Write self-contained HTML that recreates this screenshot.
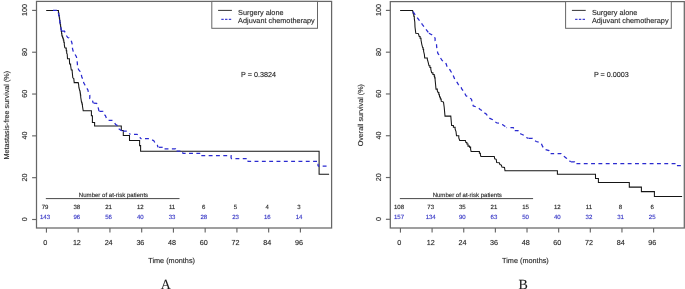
<!DOCTYPE html>
<html><head><meta charset="utf-8"><title>Kaplan-Meier curves</title>
<style>
html,body{margin:0;padding:0;background:#fff;}
body{width:685px;height:289px;overflow:hidden;font-family:"Liberation Sans",sans-serif;}
svg{display:block;will-change:transform;text-rendering:geometricPrecision;}
</style></head>
<body>
<svg width="685" height="289" viewBox="0 0 685 289">
<rect width="685" height="289" fill="#fff"/>
<rect x="36.50" y="1.40" width="295.10" height="226.60" fill="none" stroke="#666666" stroke-width="1.25"/>
<line x1="46.45" y1="228.00" x2="46.45" y2="232.60" stroke="#666666" stroke-width="1.15" />
<text x="45.15" y="244.60" font-family="Liberation Sans" font-size="7.20" text-anchor="middle" fill="#262626" stroke="#262626" stroke-width="0.40" stroke-opacity="0.30" >0</text>
<line x1="78.19" y1="228.00" x2="78.19" y2="232.60" stroke="#666666" stroke-width="1.15" />
<text x="76.89" y="244.60" font-family="Liberation Sans" font-size="7.20" text-anchor="middle" fill="#262626" stroke="#262626" stroke-width="0.40" stroke-opacity="0.30" >12</text>
<line x1="109.94" y1="228.00" x2="109.94" y2="232.60" stroke="#666666" stroke-width="1.15" />
<text x="108.64" y="244.60" font-family="Liberation Sans" font-size="7.20" text-anchor="middle" fill="#262626" stroke="#262626" stroke-width="0.40" stroke-opacity="0.30" >24</text>
<line x1="141.68" y1="228.00" x2="141.68" y2="232.60" stroke="#666666" stroke-width="1.15" />
<text x="140.38" y="244.60" font-family="Liberation Sans" font-size="7.20" text-anchor="middle" fill="#262626" stroke="#262626" stroke-width="0.40" stroke-opacity="0.30" >36</text>
<line x1="173.43" y1="228.00" x2="173.43" y2="232.60" stroke="#666666" stroke-width="1.15" />
<text x="172.12" y="244.60" font-family="Liberation Sans" font-size="7.20" text-anchor="middle" fill="#262626" stroke="#262626" stroke-width="0.40" stroke-opacity="0.30" >48</text>
<line x1="205.17" y1="228.00" x2="205.17" y2="232.60" stroke="#666666" stroke-width="1.15" />
<text x="203.87" y="244.60" font-family="Liberation Sans" font-size="7.20" text-anchor="middle" fill="#262626" stroke="#262626" stroke-width="0.40" stroke-opacity="0.30" >60</text>
<line x1="236.91" y1="228.00" x2="236.91" y2="232.60" stroke="#666666" stroke-width="1.15" />
<text x="235.61" y="244.60" font-family="Liberation Sans" font-size="7.20" text-anchor="middle" fill="#262626" stroke="#262626" stroke-width="0.40" stroke-opacity="0.30" >72</text>
<line x1="268.66" y1="228.00" x2="268.66" y2="232.60" stroke="#666666" stroke-width="1.15" />
<text x="267.36" y="244.60" font-family="Liberation Sans" font-size="7.20" text-anchor="middle" fill="#262626" stroke="#262626" stroke-width="0.40" stroke-opacity="0.30" >84</text>
<line x1="300.40" y1="228.00" x2="300.40" y2="232.60" stroke="#666666" stroke-width="1.15" />
<text x="299.10" y="244.60" font-family="Liberation Sans" font-size="7.20" text-anchor="middle" fill="#262626" stroke="#262626" stroke-width="0.40" stroke-opacity="0.30" >96</text>
<line x1="32.10" y1="219.50" x2="36.50" y2="219.50" stroke="#666666" stroke-width="1.15" />
<text x="0.00" y="0.00" font-family="Liberation Sans" font-size="7.20" text-anchor="middle" fill="#262626" stroke="#262626" stroke-width="0.40" stroke-opacity="0.30" transform="translate(27.10 219.20) rotate(-90)" >0</text>
<line x1="32.10" y1="177.68" x2="36.50" y2="177.68" stroke="#666666" stroke-width="1.15" />
<text x="0.00" y="0.00" font-family="Liberation Sans" font-size="7.20" text-anchor="middle" fill="#262626" stroke="#262626" stroke-width="0.40" stroke-opacity="0.30" transform="translate(27.10 177.38) rotate(-90)" >20</text>
<line x1="32.10" y1="135.86" x2="36.50" y2="135.86" stroke="#666666" stroke-width="1.15" />
<text x="0.00" y="0.00" font-family="Liberation Sans" font-size="7.20" text-anchor="middle" fill="#262626" stroke="#262626" stroke-width="0.40" stroke-opacity="0.30" transform="translate(27.10 135.56) rotate(-90)" >40</text>
<line x1="32.10" y1="94.04" x2="36.50" y2="94.04" stroke="#666666" stroke-width="1.15" />
<text x="0.00" y="0.00" font-family="Liberation Sans" font-size="7.20" text-anchor="middle" fill="#262626" stroke="#262626" stroke-width="0.40" stroke-opacity="0.30" transform="translate(27.10 93.74) rotate(-90)" >60</text>
<line x1="32.10" y1="52.22" x2="36.50" y2="52.22" stroke="#666666" stroke-width="1.15" />
<text x="0.00" y="0.00" font-family="Liberation Sans" font-size="7.20" text-anchor="middle" fill="#262626" stroke="#262626" stroke-width="0.40" stroke-opacity="0.30" transform="translate(27.10 51.92) rotate(-90)" >80</text>
<line x1="32.10" y1="10.40" x2="36.50" y2="10.40" stroke="#666666" stroke-width="1.15" />
<text x="0.00" y="0.00" font-family="Liberation Sans" font-size="7.20" text-anchor="middle" fill="#262626" stroke="#262626" stroke-width="0.40" stroke-opacity="0.30" transform="translate(27.10 10.10) rotate(-90)" >100</text>
<text x="171.60" y="262.60" font-family="Liberation Sans" font-size="7.30" text-anchor="middle" fill="#262626" stroke="#262626" stroke-width="0.40" stroke-opacity="0.30" >Time (months)</text>
<text x="0.00" y="0.00" font-family="Liberation Sans" font-size="7.20" text-anchor="middle" fill="#262626" stroke="#262626" stroke-width="0.40" stroke-opacity="0.30" transform="translate(9.40 115.20) rotate(-90)" >Metastasis-free survival (%)</text>
<text x="165.70" y="289.00" font-family="Liberation Serif" font-size="14.00" text-anchor="middle" fill="#1a1a1a" stroke="#1a1a1a" stroke-width="0.30" stroke-opacity="0.30" >A</text>
<rect x="211.80" y="1.40" width="105.70" height="26.90" fill="#fff" stroke="#666666" stroke-width="1"/>
<line x1="218.10" y1="10.40" x2="231.90" y2="10.40" stroke="#3a3a3a" stroke-width="1.05" />
<line x1="221.30" y1="19.40" x2="231.90" y2="19.40" stroke="#4040d0" stroke-width="1.10" stroke-dasharray="2.4 1.35"/>
<text x="238.10" y="14.60" font-family="Liberation Sans" font-size="7.30" text-anchor="start" fill="#262626" stroke="#262626" stroke-width="0.40" stroke-opacity="0.30" >Surgery alone</text>
<text x="238.10" y="23.20" font-family="Liberation Sans" font-size="7.30" text-anchor="start" fill="#262626" stroke="#262626" stroke-width="0.40" stroke-opacity="0.30" >Adjuvant chemotherapy</text>
<text x="241.10" y="76.70" font-family="Liberation Sans" font-size="7.20" text-anchor="start" fill="#262626" stroke="#262626" stroke-width="0.40" stroke-opacity="0.30" >P = 0.3824</text>
<line x1="45.85" y1="198.60" x2="179.51" y2="198.60" stroke="#333" stroke-width="0.90" />
<text x="113.48" y="197.10" font-family="Liberation Sans" font-size="6.05" text-anchor="middle" fill="#262626" stroke="#262626" stroke-width="0.40" stroke-opacity="0.30" >Number of at-risk patients</text>
<text x="45.05" y="208.50" font-family="Liberation Sans" font-size="6.05" text-anchor="middle" fill="#222" stroke="#222" stroke-width="0.40" stroke-opacity="0.30" >79</text>
<text x="45.05" y="219.00" font-family="Liberation Sans" font-size="6.05" text-anchor="middle" fill="#3030c4" stroke="#3030c4" stroke-width="0.40" stroke-opacity="0.30" >143</text>
<text x="76.79" y="208.50" font-family="Liberation Sans" font-size="6.05" text-anchor="middle" fill="#222" stroke="#222" stroke-width="0.40" stroke-opacity="0.30" >38</text>
<text x="76.79" y="219.00" font-family="Liberation Sans" font-size="6.05" text-anchor="middle" fill="#3030c4" stroke="#3030c4" stroke-width="0.40" stroke-opacity="0.30" >96</text>
<text x="108.54" y="208.50" font-family="Liberation Sans" font-size="6.05" text-anchor="middle" fill="#222" stroke="#222" stroke-width="0.40" stroke-opacity="0.30" >21</text>
<text x="108.54" y="219.00" font-family="Liberation Sans" font-size="6.05" text-anchor="middle" fill="#3030c4" stroke="#3030c4" stroke-width="0.40" stroke-opacity="0.30" >56</text>
<text x="140.28" y="208.50" font-family="Liberation Sans" font-size="6.05" text-anchor="middle" fill="#222" stroke="#222" stroke-width="0.40" stroke-opacity="0.30" >12</text>
<text x="140.28" y="219.00" font-family="Liberation Sans" font-size="6.05" text-anchor="middle" fill="#3030c4" stroke="#3030c4" stroke-width="0.40" stroke-opacity="0.30" >40</text>
<text x="172.03" y="208.50" font-family="Liberation Sans" font-size="6.05" text-anchor="middle" fill="#222" stroke="#222" stroke-width="0.40" stroke-opacity="0.30" >11</text>
<text x="172.03" y="219.00" font-family="Liberation Sans" font-size="6.05" text-anchor="middle" fill="#3030c4" stroke="#3030c4" stroke-width="0.40" stroke-opacity="0.30" >33</text>
<text x="203.77" y="208.50" font-family="Liberation Sans" font-size="6.05" text-anchor="middle" fill="#222" stroke="#222" stroke-width="0.40" stroke-opacity="0.30" >6</text>
<text x="203.77" y="219.00" font-family="Liberation Sans" font-size="6.05" text-anchor="middle" fill="#3030c4" stroke="#3030c4" stroke-width="0.40" stroke-opacity="0.30" >28</text>
<text x="235.51" y="208.50" font-family="Liberation Sans" font-size="6.05" text-anchor="middle" fill="#222" stroke="#222" stroke-width="0.40" stroke-opacity="0.30" >5</text>
<text x="235.51" y="219.00" font-family="Liberation Sans" font-size="6.05" text-anchor="middle" fill="#3030c4" stroke="#3030c4" stroke-width="0.40" stroke-opacity="0.30" >23</text>
<text x="267.26" y="208.50" font-family="Liberation Sans" font-size="6.05" text-anchor="middle" fill="#222" stroke="#222" stroke-width="0.40" stroke-opacity="0.30" >4</text>
<text x="267.26" y="219.00" font-family="Liberation Sans" font-size="6.05" text-anchor="middle" fill="#3030c4" stroke="#3030c4" stroke-width="0.40" stroke-opacity="0.30" >16</text>
<text x="299.00" y="208.50" font-family="Liberation Sans" font-size="6.05" text-anchor="middle" fill="#222" stroke="#222" stroke-width="0.40" stroke-opacity="0.30" >3</text>
<text x="299.00" y="219.00" font-family="Liberation Sans" font-size="6.05" text-anchor="middle" fill="#3030c4" stroke="#3030c4" stroke-width="0.40" stroke-opacity="0.30" >14</text>
<path d="M46.20 10.45L58.00 10.45L58.43 10.45L58.43 12.97L58.87 12.97L58.87 15.48L59.30 15.48L59.30 18.00L59.62 18.00L59.62 20.25L59.95 20.25L59.95 22.50L60.27 22.50L60.27 24.75L60.60 24.75L60.60 27.00L60.92 27.00L60.92 29.25L61.25 29.25L61.25 31.50L61.58 31.50L61.58 33.75L61.90 33.75L61.90 36.00L62.60 36.00L62.60 37.95L63.30 37.95L63.30 39.90L63.80 39.90L63.80 42.30L64.30 42.30L64.30 44.70L64.80 47.60L65.80 48.10L66.25 48.10L66.25 50.75L66.70 50.75L66.70 53.40L67.20 53.90L67.50 58.80L69.40 58.80L69.40 59.70L69.60 64.00L70.60 64.00L70.60 65.50L71.30 70.00L72.20 70.00L72.20 71.60L72.80 77.80L73.80 78.60L74.20 82.60L78.20 82.60L78.60 84.30L78.90 87.50L79.80 91.00L80.10 91.00L80.10 93.00L80.40 93.00L80.40 95.00L80.70 95.00L80.70 97.00L81.50 102.20L81.95 102.20L81.95 103.95L82.40 103.95L82.40 105.70L83.20 110.80L91.40 110.80L91.40 115.70L92.40 115.70L92.40 122.50L94.60 122.50L94.60 125.90L121.30 125.90L121.30 130.50L123.30 130.50L123.30 135.50L129.50 135.50L129.50 140.50L139.60 140.50L139.60 145.60L140.60 145.60L140.60 151.30L319.10 151.30L319.10 174.30L329.10 174.30" fill="none" stroke="#151515" stroke-width="1.05" stroke-linejoin="miter"/>
<path d="M53.00 10.45L58.00 10.45L59.30 18.00L60.60 27.00L61.70 31.20" fill="none" stroke="#2a2ad0" stroke-width="1.25" stroke-dasharray="3.90 3.42" stroke-dashoffset="0.00"/>
<path d="M61.70 31.20L64.50 31.20L66.70 36.00L67.70 37.50L69.10 37.90L70.60 39.90L71.60 41.80L72.50 45.70L72.50 48.60L73.50 52.50L74.50 53.40L76.40 56.80L76.90 59.30L77.40 63.90L77.40 67.30L78.80 69.80L80.30 71.70L81.30 74.60L81.80 77.00L83.20 79.90L83.70 82.80L85.10 85.30L86.40 87.50L87.90 89.90L88.40 92.30L89.80 95.20L89.80 98.60L92.20 99.60L93.20 103.00" fill="none" stroke="#2a2ad0" stroke-width="1.25" stroke-dasharray="3.90 3.42" stroke-dashoffset="7.12"/>
<path d="M93.20 103.00L96.60 103.40L97.60 105.40L98.50 108.80L99.00 111.30" fill="none" stroke="#2a2ad0" stroke-width="1.25" stroke-dasharray="3.90 3.42" stroke-dashoffset="7.02"/>
<path d="M99.00 111.30L102.80 111.30L103.80 114.10L105.40 115.60L106.40 118.20L108.00 120.30L112.10 120.30L114.20 122.40L115.70 124.50L117.80 125.80L118.50 128.60L121.20 130.40L122.60 131.00" fill="none" stroke="#2a2ad0" stroke-width="1.25" stroke-dasharray="3.90 3.42" stroke-dashoffset="6.97"/>
<path d="M122.60 131.00L126.80 131.00L128.80 133.10L130.20 134.30" fill="none" stroke="#2a2ad0" stroke-width="1.25" stroke-dasharray="3.90 3.42" stroke-dashoffset="7.02"/>
<path d="M130.20 134.30L137.10 134.30L139.60 136.00L140.60 138.70" fill="none" stroke="#2a2ad0" stroke-width="1.25" stroke-dasharray="3.90 3.42" stroke-dashoffset="3.52"/>
<path d="M140.60 138.70L149.00 138.70L151.80 139.70L153.80 140.80L155.20 143.10L157.30 145.00L158.00 147.30" fill="none" stroke="#2a2ad0" stroke-width="1.25" stroke-dasharray="3.90 3.42" stroke-dashoffset="2.92"/>
<path d="M158.00 147.30L162.80 147.30L163.80 148.90" fill="none" stroke="#2a2ad0" stroke-width="1.25" stroke-dasharray="3.90 3.42" stroke-dashoffset="6.57"/>
<path d="M163.80 148.90L175.50 148.90L176.00 151.10" fill="none" stroke="#2a2ad0" stroke-width="1.25" stroke-dasharray="3.90 3.42" stroke-dashoffset="6.57"/>
<path d="M176.00 151.10L182.70 151.10L182.70 153.40" fill="none" stroke="#2a2ad0" stroke-width="1.25" stroke-dasharray="3.90 3.42" stroke-dashoffset="6.77"/>
<path d="M182.70 153.40L200.60 153.40L200.60 155.70" fill="none" stroke="#2a2ad0" stroke-width="1.25" stroke-dasharray="3.90 3.42" stroke-dashoffset="0.97"/>
<path d="M200.60 155.70L231.10 155.70L231.10 158.50" fill="none" stroke="#2a2ad0" stroke-width="1.25" stroke-dasharray="3.90 3.42" stroke-dashoffset="6.59"/>
<path d="M231.10 158.50L247.80 158.50L247.80 161.40" fill="none" stroke="#2a2ad0" stroke-width="1.25" stroke-dasharray="3.90 3.42" stroke-dashoffset="2.97"/>
<path d="M247.80 161.40L318.00 161.40L318.00 166.20" fill="none" stroke="#2a2ad0" stroke-width="1.25" stroke-dasharray="3.90 3.42" stroke-dashoffset="0.57"/>
<path d="M318.00 166.20L329.10 166.20" fill="none" stroke="#2a2ad0" stroke-width="1.25" stroke-dasharray="3.90 3.42" stroke-dashoffset="2.67"/>
<rect x="390.30" y="1.60" width="294.00" height="226.40" fill="none" stroke="#666666" stroke-width="1.25"/>
<line x1="400.45" y1="228.00" x2="400.45" y2="232.60" stroke="#666666" stroke-width="1.15" />
<text x="399.15" y="244.60" font-family="Liberation Sans" font-size="7.20" text-anchor="middle" fill="#262626" stroke="#262626" stroke-width="0.40" stroke-opacity="0.30" >0</text>
<line x1="432.09" y1="228.00" x2="432.09" y2="232.60" stroke="#666666" stroke-width="1.15" />
<text x="430.79" y="244.60" font-family="Liberation Sans" font-size="7.20" text-anchor="middle" fill="#262626" stroke="#262626" stroke-width="0.40" stroke-opacity="0.30" >12</text>
<line x1="463.74" y1="228.00" x2="463.74" y2="232.60" stroke="#666666" stroke-width="1.15" />
<text x="462.44" y="244.60" font-family="Liberation Sans" font-size="7.20" text-anchor="middle" fill="#262626" stroke="#262626" stroke-width="0.40" stroke-opacity="0.30" >24</text>
<line x1="495.38" y1="228.00" x2="495.38" y2="232.60" stroke="#666666" stroke-width="1.15" />
<text x="494.08" y="244.60" font-family="Liberation Sans" font-size="7.20" text-anchor="middle" fill="#262626" stroke="#262626" stroke-width="0.40" stroke-opacity="0.30" >36</text>
<line x1="527.02" y1="228.00" x2="527.02" y2="232.60" stroke="#666666" stroke-width="1.15" />
<text x="525.73" y="244.60" font-family="Liberation Sans" font-size="7.20" text-anchor="middle" fill="#262626" stroke="#262626" stroke-width="0.40" stroke-opacity="0.30" >48</text>
<line x1="558.67" y1="228.00" x2="558.67" y2="232.60" stroke="#666666" stroke-width="1.15" />
<text x="557.37" y="244.60" font-family="Liberation Sans" font-size="7.20" text-anchor="middle" fill="#262626" stroke="#262626" stroke-width="0.40" stroke-opacity="0.30" >60</text>
<line x1="590.31" y1="228.00" x2="590.31" y2="232.60" stroke="#666666" stroke-width="1.15" />
<text x="589.01" y="244.60" font-family="Liberation Sans" font-size="7.20" text-anchor="middle" fill="#262626" stroke="#262626" stroke-width="0.40" stroke-opacity="0.30" >72</text>
<line x1="621.96" y1="228.00" x2="621.96" y2="232.60" stroke="#666666" stroke-width="1.15" />
<text x="620.66" y="244.60" font-family="Liberation Sans" font-size="7.20" text-anchor="middle" fill="#262626" stroke="#262626" stroke-width="0.40" stroke-opacity="0.30" >84</text>
<line x1="653.60" y1="228.00" x2="653.60" y2="232.60" stroke="#666666" stroke-width="1.15" />
<text x="652.30" y="244.60" font-family="Liberation Sans" font-size="7.20" text-anchor="middle" fill="#262626" stroke="#262626" stroke-width="0.40" stroke-opacity="0.30" >96</text>
<line x1="385.90" y1="219.30" x2="390.30" y2="219.30" stroke="#666666" stroke-width="1.15" />
<text x="0.00" y="0.00" font-family="Liberation Sans" font-size="7.20" text-anchor="middle" fill="#262626" stroke="#262626" stroke-width="0.40" stroke-opacity="0.30" transform="translate(380.90 219.00) rotate(-90)" >0</text>
<line x1="385.90" y1="177.52" x2="390.30" y2="177.52" stroke="#666666" stroke-width="1.15" />
<text x="0.00" y="0.00" font-family="Liberation Sans" font-size="7.20" text-anchor="middle" fill="#262626" stroke="#262626" stroke-width="0.40" stroke-opacity="0.30" transform="translate(380.90 177.22) rotate(-90)" >20</text>
<line x1="385.90" y1="135.74" x2="390.30" y2="135.74" stroke="#666666" stroke-width="1.15" />
<text x="0.00" y="0.00" font-family="Liberation Sans" font-size="7.20" text-anchor="middle" fill="#262626" stroke="#262626" stroke-width="0.40" stroke-opacity="0.30" transform="translate(380.90 135.44) rotate(-90)" >40</text>
<line x1="385.90" y1="93.96" x2="390.30" y2="93.96" stroke="#666666" stroke-width="1.15" />
<text x="0.00" y="0.00" font-family="Liberation Sans" font-size="7.20" text-anchor="middle" fill="#262626" stroke="#262626" stroke-width="0.40" stroke-opacity="0.30" transform="translate(380.90 93.66) rotate(-90)" >60</text>
<line x1="385.90" y1="52.18" x2="390.30" y2="52.18" stroke="#666666" stroke-width="1.15" />
<text x="0.00" y="0.00" font-family="Liberation Sans" font-size="7.20" text-anchor="middle" fill="#262626" stroke="#262626" stroke-width="0.40" stroke-opacity="0.30" transform="translate(380.90 51.88) rotate(-90)" >80</text>
<line x1="385.90" y1="10.40" x2="390.30" y2="10.40" stroke="#666666" stroke-width="1.15" />
<text x="0.00" y="0.00" font-family="Liberation Sans" font-size="7.20" text-anchor="middle" fill="#262626" stroke="#262626" stroke-width="0.40" stroke-opacity="0.30" transform="translate(380.90 10.10) rotate(-90)" >100</text>
<text x="525.40" y="262.60" font-family="Liberation Sans" font-size="7.30" text-anchor="middle" fill="#262626" stroke="#262626" stroke-width="0.40" stroke-opacity="0.30" >Time (months)</text>
<text x="0.00" y="0.00" font-family="Liberation Sans" font-size="7.20" text-anchor="middle" fill="#262626" stroke="#262626" stroke-width="0.40" stroke-opacity="0.30" transform="translate(363.20 115.20) rotate(-90)" >Overall survival (%)</text>
<text x="523.20" y="289.00" font-family="Liberation Serif" font-size="14.00" text-anchor="middle" fill="#1a1a1a" stroke="#1a1a1a" stroke-width="0.30" stroke-opacity="0.30" >B</text>
<rect x="565.60" y="1.60" width="105.70" height="26.70" fill="#fff" stroke="#666666" stroke-width="1"/>
<line x1="571.90" y1="10.40" x2="585.70" y2="10.40" stroke="#3a3a3a" stroke-width="1.05" />
<line x1="575.10" y1="19.40" x2="585.70" y2="19.40" stroke="#4040d0" stroke-width="1.10" stroke-dasharray="2.4 1.35"/>
<text x="591.90" y="14.60" font-family="Liberation Sans" font-size="7.30" text-anchor="start" fill="#262626" stroke="#262626" stroke-width="0.40" stroke-opacity="0.30" >Surgery alone</text>
<text x="591.90" y="23.20" font-family="Liberation Sans" font-size="7.30" text-anchor="start" fill="#262626" stroke="#262626" stroke-width="0.40" stroke-opacity="0.30" >Adjuvant chemotherapy</text>
<text x="593.90" y="76.70" font-family="Liberation Sans" font-size="7.20" text-anchor="start" fill="#262626" stroke="#262626" stroke-width="0.40" stroke-opacity="0.30" >P = 0.0003</text>
<line x1="399.85" y1="198.60" x2="533.09" y2="198.60" stroke="#333" stroke-width="0.90" />
<text x="467.27" y="197.10" font-family="Liberation Sans" font-size="6.05" text-anchor="middle" fill="#262626" stroke="#262626" stroke-width="0.40" stroke-opacity="0.30" >Number of at-risk patients</text>
<text x="399.05" y="208.50" font-family="Liberation Sans" font-size="6.05" text-anchor="middle" fill="#222" stroke="#222" stroke-width="0.40" stroke-opacity="0.30" >108</text>
<text x="399.05" y="219.00" font-family="Liberation Sans" font-size="6.05" text-anchor="middle" fill="#3030c4" stroke="#3030c4" stroke-width="0.40" stroke-opacity="0.30" >157</text>
<text x="430.69" y="208.50" font-family="Liberation Sans" font-size="6.05" text-anchor="middle" fill="#222" stroke="#222" stroke-width="0.40" stroke-opacity="0.30" >73</text>
<text x="430.69" y="219.00" font-family="Liberation Sans" font-size="6.05" text-anchor="middle" fill="#3030c4" stroke="#3030c4" stroke-width="0.40" stroke-opacity="0.30" >134</text>
<text x="462.34" y="208.50" font-family="Liberation Sans" font-size="6.05" text-anchor="middle" fill="#222" stroke="#222" stroke-width="0.40" stroke-opacity="0.30" >35</text>
<text x="462.34" y="219.00" font-family="Liberation Sans" font-size="6.05" text-anchor="middle" fill="#3030c4" stroke="#3030c4" stroke-width="0.40" stroke-opacity="0.30" >90</text>
<text x="493.98" y="208.50" font-family="Liberation Sans" font-size="6.05" text-anchor="middle" fill="#222" stroke="#222" stroke-width="0.40" stroke-opacity="0.30" >21</text>
<text x="493.98" y="219.00" font-family="Liberation Sans" font-size="6.05" text-anchor="middle" fill="#3030c4" stroke="#3030c4" stroke-width="0.40" stroke-opacity="0.30" >63</text>
<text x="525.62" y="208.50" font-family="Liberation Sans" font-size="6.05" text-anchor="middle" fill="#222" stroke="#222" stroke-width="0.40" stroke-opacity="0.30" >15</text>
<text x="525.62" y="219.00" font-family="Liberation Sans" font-size="6.05" text-anchor="middle" fill="#3030c4" stroke="#3030c4" stroke-width="0.40" stroke-opacity="0.30" >50</text>
<text x="557.27" y="208.50" font-family="Liberation Sans" font-size="6.05" text-anchor="middle" fill="#222" stroke="#222" stroke-width="0.40" stroke-opacity="0.30" >12</text>
<text x="557.27" y="219.00" font-family="Liberation Sans" font-size="6.05" text-anchor="middle" fill="#3030c4" stroke="#3030c4" stroke-width="0.40" stroke-opacity="0.30" >40</text>
<text x="588.91" y="208.50" font-family="Liberation Sans" font-size="6.05" text-anchor="middle" fill="#222" stroke="#222" stroke-width="0.40" stroke-opacity="0.30" >11</text>
<text x="588.91" y="219.00" font-family="Liberation Sans" font-size="6.05" text-anchor="middle" fill="#3030c4" stroke="#3030c4" stroke-width="0.40" stroke-opacity="0.30" >32</text>
<text x="620.56" y="208.50" font-family="Liberation Sans" font-size="6.05" text-anchor="middle" fill="#222" stroke="#222" stroke-width="0.40" stroke-opacity="0.30" >8</text>
<text x="620.56" y="219.00" font-family="Liberation Sans" font-size="6.05" text-anchor="middle" fill="#3030c4" stroke="#3030c4" stroke-width="0.40" stroke-opacity="0.30" >31</text>
<text x="652.20" y="208.50" font-family="Liberation Sans" font-size="6.05" text-anchor="middle" fill="#222" stroke="#222" stroke-width="0.40" stroke-opacity="0.30" >6</text>
<text x="652.20" y="219.00" font-family="Liberation Sans" font-size="6.05" text-anchor="middle" fill="#3030c4" stroke="#3030c4" stroke-width="0.40" stroke-opacity="0.30" >25</text>
<path d="M400.10 10.45L412.60 10.45L413.20 13.70L413.75 13.70L413.75 16.15L414.30 16.15L414.30 18.60L414.80 22.00L415.00 27.00L415.80 33.20L418.40 33.60L419.20 36.50L420.10 36.50L420.10 38.25L421.00 38.25L421.00 40.00L421.80 44.30L422.70 47.80L423.15 47.80L423.15 49.55L423.60 49.55L423.60 51.30L424.40 54.70L424.70 58.00L427.30 58.00L427.30 59.20L428.20 62.30L429.00 65.80L429.90 65.80L429.90 67.50L430.80 67.50L430.80 69.20L431.60 72.70L432.90 72.70L432.90 74.40L434.20 74.40L434.20 76.10L434.65 76.10L434.65 77.85L435.10 77.85L435.10 79.60L435.60 84.80L436.00 89.10L437.30 89.10L437.30 90.80L438.20 92.60L438.85 92.60L438.85 94.75L439.50 94.75L439.50 96.90L440.35 96.90L440.35 99.05L441.20 99.05L441.20 101.20L443.50 102.10L444.20 107.30L445.00 116.10L450.80 116.10L451.60 125.50L453.40 125.50L453.40 127.20L455.10 127.20L455.10 128.90L456.00 131.50L456.50 135.80L458.80 135.80L458.80 138.00L459.70 140.40L465.40 140.40L465.90 142.40L466.90 142.40L466.90 144.00L468.00 144.00L468.00 146.10L469.50 146.10L469.50 147.10L470.60 147.10L470.60 149.20L471.10 151.50L478.30 151.50L479.40 151.50L479.40 153.30L480.40 153.30L480.40 154.90L480.90 156.40L494.30 156.40L494.70 158.80L496.20 159.30L496.70 162.50L499.30 162.70L499.90 164.50L501.40 165.10L501.90 167.10L504.50 167.40L505.00 170.80L557.40 170.80L557.40 174.30L595.50 174.30L595.50 178.40L598.40 178.40L598.40 182.50L629.30 182.50L629.30 187.10L641.40 187.10L641.40 191.60L654.40 191.60L654.40 196.40L682.10 196.40" fill="none" stroke="#151515" stroke-width="1.05" stroke-linejoin="miter"/>
<path d="M413.00 11.60L416.20 16.30L419.30 20.40L422.40 24.60L425.60 28.70L428.90 33.30" fill="none" stroke="#2a2ad0" stroke-width="1.25" stroke-dasharray="3.90 3.42" stroke-dashoffset="0.00"/>
<path d="M428.90 33.30L431.70 34.70L433.10 36.80L435.10 38.10L435.10 40.90L436.50 44.40L436.70 47.10L437.20 50.60L437.90 53.40L439.30 55.40L440.20 57.50L442.20 60.50L444.50 62.00L446.10 63.70L446.90 66.20L448.70 68.00L450.40 70.60L453.00 74.90L454.70 79.20L457.30 82.70L458.20 84.40L460.80 86.10L461.60 88.70L464.20 92.20L466.00 95.70L469.40 97.40L471.50 99.40L472.60 103.90L473.30 105.90L476.10 106.90L478.20 107.70L480.20 109.40L482.30 110.80L484.40 112.90L486.50 114.20L487.90 117.00L489.90 118.40L492.70 119.80L494.10 121.20L496.90 123.00L499.60 123.20L502.40 124.60L504.50 126.00L506.60 127.50" fill="none" stroke="#2a2ad0" stroke-width="1.25" stroke-dasharray="3.90 3.42" stroke-dashoffset="0.20"/>
<path d="M506.60 127.50L513.30 127.50L514.30 130.60" fill="none" stroke="#2a2ad0" stroke-width="1.25" stroke-dasharray="3.90 3.42" stroke-dashoffset="3.47"/>
<path d="M514.30 130.60L518.00 130.60L519.00 133.20L521.60 134.20L523.70 135.20L525.80 137.30L528.40 138.40" fill="none" stroke="#2a2ad0" stroke-width="1.25" stroke-dasharray="3.90 3.42" stroke-dashoffset="6.87"/>
<path d="M528.40 138.40L532.50 138.40L534.10 139.90L536.20 141.50L539.20 142.30L541.20 143.30L542.30 145.90L543.80 148.50L545.40 149.50L549.00 150.60L550.60 153.50" fill="none" stroke="#2a2ad0" stroke-width="1.25" stroke-dasharray="3.90 3.42" stroke-dashoffset="7.07"/>
<path d="M550.60 153.50L561.00 153.50L563.00 155.20L564.60 156.80L566.70 158.40L568.70 160.40L570.80 161.80" fill="none" stroke="#2a2ad0" stroke-width="1.25" stroke-dasharray="3.90 3.42" stroke-dashoffset="0.35"/>
<path d="M570.80 161.80L574.50 161.80L576.30 163.60" fill="none" stroke="#2a2ad0" stroke-width="1.25" stroke-dasharray="3.90 3.42" stroke-dashoffset="7.07"/>
<path d="M576.30 163.60L676.00 163.60L676.00 165.60L682.10 165.60" fill="none" stroke="#2a2ad0" stroke-width="1.25" stroke-dasharray="3.90 3.42" stroke-dashoffset="7.17"/>
</svg>
</body></html>
